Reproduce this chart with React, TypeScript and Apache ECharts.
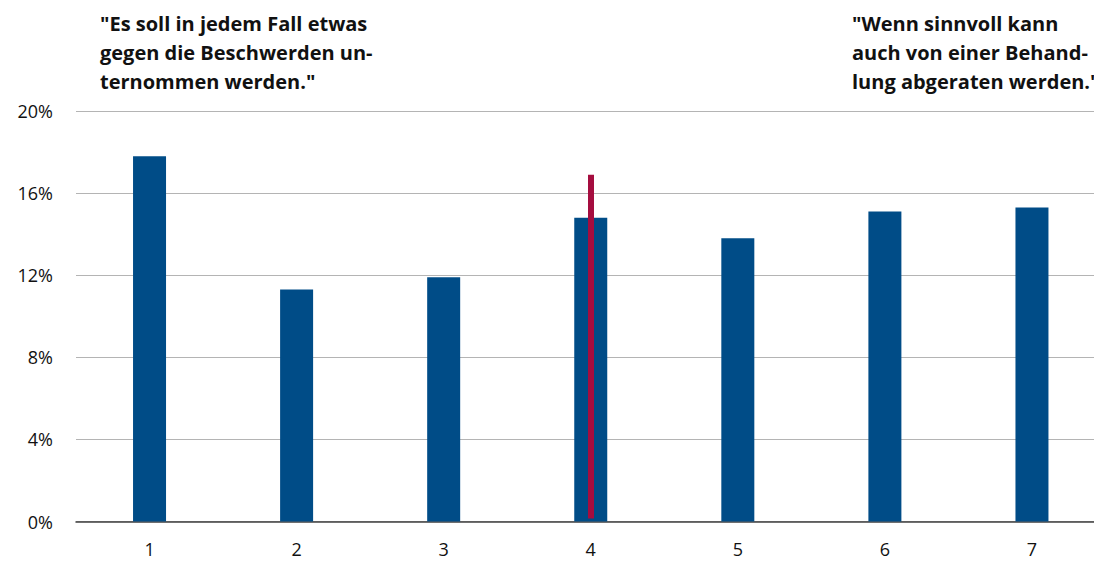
import React, { useEffect, useRef } from "react";
import * as echarts from "echarts";

const categories = ["1", "2", "3", "4", "5", "6", "7"];
const shares = [17.8, 11.3, 11.9, 14.8, 13.8, 15.1, 15.3];
const yTicks = { min: 0, max: 20, interval: 4 };
const meanCategory = "4";
const meanRange = [0.15, 16.9];
const leftNote = '"Es soll in jedem Fall etwas\ngegen die Beschwerden un-\nternommen werden."';
const rightNote = '"Wenn sinnvoll kann\nauch von einer Behand-\nlung abgeraten werden."';

const BAR_COLOR = "#004C87";
const MARK_COLOR = "#A50D3F";
const FONT = "'Open Sans', 'Noto Sans', sans-serif";

export default function App() {
  const ref = useRef<HTMLDivElement>(null);

  useEffect(() => {
    if (!ref.current) return;
    const chart = echarts.init(ref.current, null, { renderer: "svg" });
    chart.setOption({
      animation: false,
      backgroundColor: "#ffffff",
      textStyle: { fontFamily: FONT },
      // the plot runs a little past the right edge of the visible frame
      grid: { left: 76, top: 111, bottom: 40.5, right: 0.5, containLabel: false },
      xAxis: {
        type: "category",
        data: categories,
        axisLine: { show: true, lineStyle: { color: "#404040", width: 1.5 } },
        axisTick: { show: false },
        axisLabel: { color: "#111", fontSize: 18, margin: 18, fontFamily: FONT },
        splitLine: { show: false },
      },
      yAxis: {
        type: "value",
        min: yTicks.min,
        max: yTicks.max,
        interval: yTicks.interval,
        axisLine: { show: false },
        axisTick: { show: false },
        axisLabel: {
          color: "#111",
          fontSize: 18,
          margin: 23,
          fontFamily: FONT,
          formatter: "{value}%",
        },
        splitLine: { lineStyle: { color: "#B4B4B4", width: 1 } },
      },
      series: [
        {
          type: "bar",
          data: shares,
          barWidth: 33,
          itemStyle: { color: BAR_COLOR },
          markLine: {
            silent: true,
            symbol: "none",
            label: { show: false },
            lineStyle: { color: MARK_COLOR, width: 6, type: "solid" },
            data: [
              [
                { coord: [meanCategory, meanRange[0]] },
                { coord: [meanCategory, meanRange[1]] },
              ],
            ],
          },
        },
      ],
      graphic: [
        {
          type: "text",
          left: 100,
          top: 9,
          style: {
            text: leftNote,
            font: `bold 20px ${FONT}`,
            fill: "#111",
            lineHeight: 29,
          },
        },
        {
          type: "text",
          left: 852,
          top: 9,
          style: {
            text: rightNote,
            font: `bold 20px ${FONT}`,
            fill: "#111",
            lineHeight: 29,
          },
        },
      ],
    });
    return () => chart.dispose();
  }, []);

  return (
    <div
      style={{ position: "fixed", left: 0, top: 0, width: 1094, height: 562, overflow: "hidden" }}
    >
      <div ref={ref} style={{ width: 1106, height: 562 }} />
    </div>
  );
}
